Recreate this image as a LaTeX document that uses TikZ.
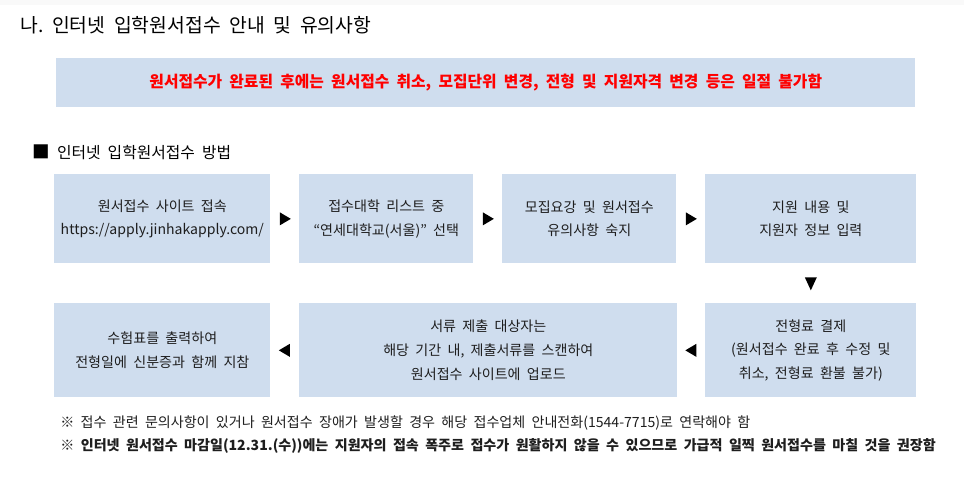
\documentclass[tikz,border=0pt]{standalone}
\usepackage{fontspec}
\setmainfont{Noto Sans CJK KR}[WordSpace=2]
\usetikzlibrary{calc}
\definecolor{boxblue}{HTML}{CFDDEE}
\definecolor{ink}{HTML}{1E1E1E}

\tikzset{
  stepbox/.style={fill=boxblue,anchor=north west,inner sep=0pt,align=center,
    text=ink,font=\fontsize{8}{13.5}\selectfont},
  note/.style={anchor=west,inner sep=0pt,text=ink,font=\fontsize{8}{10}\selectfont},
}

\begin{document}
\begin{tikzpicture}[x=0.02cm,y=-0.02cm]
\useasboundingbox (0,0) rectangle (964,477);
\fill[gray!5] (0,0) rectangle (964,5);
\node[anchor=west,inner sep=0pt,font=\fontsize{11}{13}\selectfont] (title) at (20,25) {나.\ 인터넷 입학원서접수 안내 및 유의사항};
\node[fill=boxblue,anchor=north west,minimum width=17.18cm,minimum height=0.98cm,inner sep=0pt,
  text=red,font=\fontsize{9}{11}\selectfont\bfseries] (notice) at (56,58)
  {원서접수가 완료된 후에는 원서접수 취소, 모집단위 변경, 전형 및 지원자격 변경 등은 일절 불가함};
\node[anchor=west,inner sep=0pt,font=\fontsize{9}{10}\selectfont] (method) at (32,152) {{\fontsize{10}{10}\selectfont■}\ 인터넷 입학원서접수 방법};

% first row
\node[stepbox,minimum width=4.32cm,minimum height=1.78cm] (s1) at (54,174) {원서접수 사이트 접속\\https://apply.jinhakapply.com/};
\node[stepbox,minimum width=3.48cm,minimum height=1.78cm] (s2) at (299,174) {접수대학 리스트 중\\“연세대학교(서울)” 선택};
\node[stepbox,minimum width=3.48cm,minimum height=1.78cm] (s3) at (502,174) {모집요강 및 원서접수\\유의사항 숙지};
\node[stepbox,minimum width=4.22cm,minimum height=1.78cm] (s4) at (705,174) {지원 내용 및\\지원자 정보 입력};

% second row
\node[stepbox,minimum width=4.32cm,minimum height=1.88cm] (s7) at (54,303) {수험표를 출력하여\\전형일에 신분증과 함께 지참};
\node[stepbox,minimum width=7.56cm,minimum height=1.88cm] (s6) at (299,303) {서류 제출 대상자는\\해당 기간 내, 제출서류를 스캔하여\\원서접수 사이트에 업로드};
\node[stepbox,minimum width=4.22cm,minimum height=1.88cm] (s5) at (705,303) {전형료 결제\\(원서접수 완료 후 수정 및\\취소, 전형료 환불 불가)};

% arrow heads
\foreach \a/\b in {s1/s2,s2/s3,s3/s4}
  \fill ($(\a.east)!.5!(\b.west)$) +(-5,-6.5) -- +(6,0) -- +(-5,6.5) -- cycle;
\fill ($(s4.south)!.5!(s5.north)$) +(-6,-6) -- +(6,-6) -- +(0,7) -- cycle;
\foreach \a/\b in {s5/s6,s6/s7}
  \fill ($(\a.west)!.5!(\b.east)$) +(5,-6.5) -- +(-6,0) -- +(5,6.5) -- cycle;

% notes
\node[note] (n1) at (60,423) {※\ 접수 관련 문의사항이 있거나 원서접수 장애가 발생할 경우 해당 접수업체 안내전화(1544-7715)로 연락해야 함};
\node[note,font=\fontsize{8}{10}\selectfont\bfseries] (n2) at (60,446) {※\ 인터넷 원서접수 마감일(12.31.(수))에는 지원자의 접속 폭주로 접수가 원활하지 않을 수 있으므로 가급적 일찍 원서접수를 마칠 것을 권장함};
\end{tikzpicture}
\end{document}
